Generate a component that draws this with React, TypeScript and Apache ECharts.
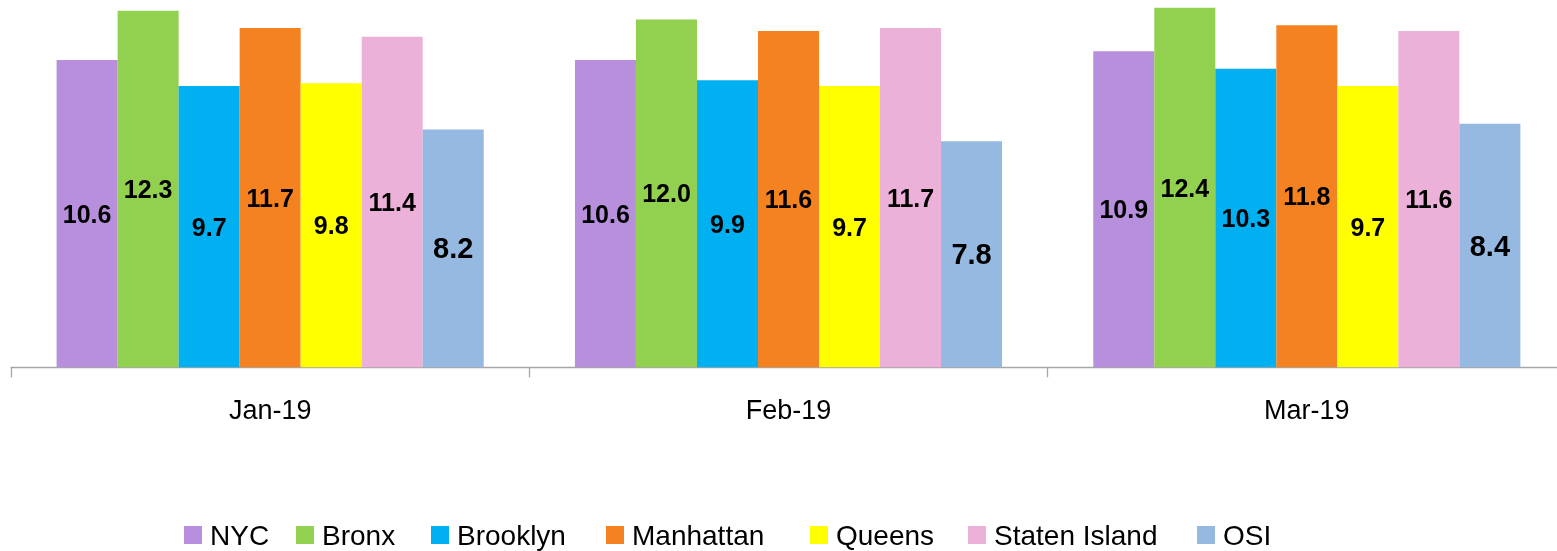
import React, { useEffect, useRef } from "react";
import * as echarts from "echarts";

const months = ["Jan-19", "Feb-19", "Mar-19"];
const boroughs = ["NYC", "Bronx", "Brooklyn", "Manhattan", "Queens", "Staten Island", "OSI"];
const colors = ["#B88FDC", "#92D050", "#00B0F0", "#F48221", "#FFFF00", "#ECB1D9", "#95B9E0"];
const nycValues = [10.6, 10.6, 10.9];
const bronxValues = [12.3, 12.0, 12.4];
const brooklynValues = [9.7, 9.9, 10.3];
const manhattanValues = [11.7, 11.6, 11.8];
const queensValues = [9.8, 9.7, 9.7];
const statenIslandValues = [11.4, 11.7, 11.6];
const osiValues = [8.2, 7.8, 8.4];
const seriesValues = [nycValues, bronxValues, brooklynValues, manhattanValues, queensValues, statenIslandValues, osiValues];
const legendLefts = [184, 296, 431, 606, 810, 968, 1197];

const FONT = "'Liberation Sans', Arial, sans-serif";

export default function App() {
  const ref = useRef<HTMLDivElement>(null);
  useEffect(() => {
    if (!ref.current) return;
    const chart = echarts.init(ref.current, undefined, { renderer: "svg" });
    chart.setOption({
      animation: false,
      textStyle: { fontFamily: FONT },
      grid: { left: 11, right: -9, top: 0, bottom: 183.7, outerBoundsMode: "none", containLabel: false },
      legend: boroughs.map((b, i) => ({
        data: [b],
        left: legendLefts[i],
        top: 521,
        icon: "rect",
        itemWidth: 18,
        itemHeight: 18,
        padding: 0,
        textStyle: { fontSize: 28, color: "#000", fontFamily: FONT, padding: [0, 0, 0, 3] },
        selectedMode: false,
      })),
      xAxis: {
        type: "category",
        data: months,
        axisLine: { lineStyle: { color: "#A6A6A6", width: 1.3 } },
        axisTick: { show: true, length: 10, lineStyle: { color: "#A6A6A6", width: 1.3 } },
        axisLabel: { fontSize: 27, color: "#000", margin: 29, fontFamily: FONT },
      },
      yAxis: { type: "value", min: 0, max: 12.67, show: false, splitLine: { show: false } },
      series: boroughs.map((b, i) => ({
        name: b,
        type: "bar",
        data: seriesValues[i],
        barGap: "0%",
        barCategoryGap: "17.6%",
        itemStyle: { color: colors[i] },
        label: {
          show: true,
          position: "inside",
          color: "#000",
          fontWeight: "bold",
          fontFamily: FONT,
          fontSize: b === "OSI" ? 29 : 25,
          formatter: (p: any) => Number(p.value).toFixed(1),
        },
      })),
    });
    return () => chart.dispose();
  }, []);
  return <div ref={ref} style={{ position: "fixed", left: 0, top: 0, width: 1557, height: 551 }} />;
}
